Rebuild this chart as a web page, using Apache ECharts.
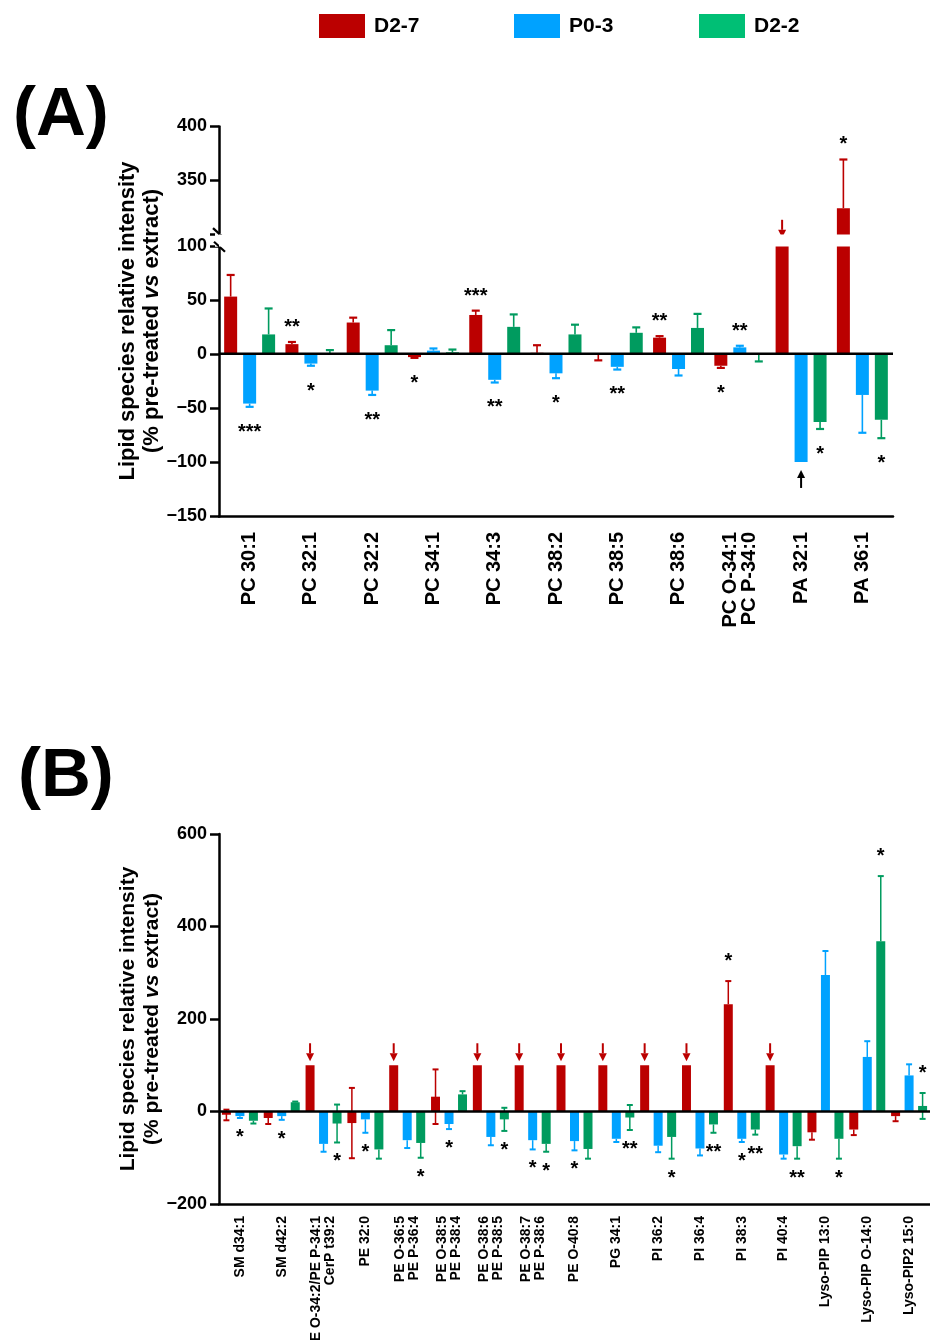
<!DOCTYPE html>
<html>
<head>
<meta charset="utf-8">
<script src="https://cdn.jsdelivr.net/npm/echarts@6/dist/echarts.min.js"></script>
<style>html,body{margin:0;padding:0;background:#fff}#c{width:930px;height:1340px}</style>
</head>
<body>
<div id="c"></div>
<script>
const seriesNames = ['D2-7', 'P0-3', 'D2-2'];

// ---------- Panel A ----------
const catsA = ['PC 30:1', 'PC 32:1', 'PC 32:2', 'PC 34:1', 'PC 34:3', 'PC 38:2', 'PC 38:5', 'PC 38:6', 'PC O-34:1\nPC P-34:0', 'PA 32:1', 'PA 36:1'];
const redA      = [53, 9, 29, -3, 36, 1, -1, 15, -11, 100, 324];
const redErrA   = [20, 2, 4.5, 0.7, 4, 7, 5, 1.4, 2, 0, 45];
const blueA     = [-46, -9, -34, 3, -24, -18, -12, -14, 6, -100, -38];
const blueErrA  = [3, 2, 4, 2, 2.5, 4.5, 2.5, 6, 1.5, 0, 35];
const greenA    = [18, 0.5, 8, 1.5, 25, 18, 19.5, 24, -1, -63, -61];
const greenErrA = [24, 3, 14, 2.5, 11.5, 9, 5, 13, 6, 6.5, 17];
const sigRedA   = ['', '**', '', '*', '***', '', '', '**', '*', '', '*'];
const sigBlueA  = ['***', '*', '**', '', '**', '*', '**', '', '**', '', ''];
const sigGreenA = ['', '', '', '', '', '', '', '', '', '*', '*'];
const arrowRedA  = [0, 0, 0, 0, 0, 0, 0, 0, 0, 1, 0];
const arrowBlueA = [0, 0, 0, 0, 0, 0, 0, 0, 0, 1, 0];
const ticksA = [-150, -100, -50, 0, 50, 100, 350, 400];
const breakA = [100, 300];

// ---------- Panel B ----------
const catsB = ['SM d34:1', 'SM d42:2', 'PE O-34:2/PE P-34:1\nCerP t39:2', 'PE 32:0', 'PE O-36:5\nPE P-36:4', 'PE O-38:5\nPE P-38:4', 'PE O-38:6\nPE P-38:5', 'PE O-38:7\nPE P-38:6', 'PE O-40:8', 'PG 34:1', 'PI 36:2', 'PI 36:4', 'PI 38:3', 'PI 40:4', 'Lyso-PIP 13:0', 'Lyso-PIP O-14:0', 'Lyso-PIP2 15:0'];
const redB       = [-7, -14, 100, -25, 100, 32, 100, 100, 100, 100, 100, 100, 232, 100, -45, -39, -10];
const redErrB    = [12, 13, 0, 76, 0, 59, 0, 0, 0, 0, 0, 0, 50, 0, 16, 12, 11];
const redInB     = [11, 0, 0, 76, 0, 59, 0, 0, 0, 0, 0, 0, 0, 0, 0, 0, 0];
const blueB      = [-10, -10, -70, -17, -62, -27, -55, -62, -64, -59, -74, -80, -59, -93, 295, 118, 78];
const blueErrB   = [4, 8, 17, 29, 17, 11, 18, 20, 20, 7, 14, 15, 7, 9, 52, 34, 24];
const greenB     = [-20, 20, -26, -82, -68, 37, -17, -70, -81, -13, -55, -28, -39, -75, -59, 368, 12];
const greenErrB  = [6, 1.5, 41, 20, 32, 7, 25, 17, 21, 27, 47, 18, 11, 27, 43, 141, 28];
const greenInB   = [0, 0, 41, 0, 0, 0, 25, 0, 0, 27, 0, 0, 0, 0, 0, 0, 28];
const sigRedB    = ['', '', '', '', '', '', '', '', '', '', '', '', '*', '', '', '', ''];
const sigBlueB   = ['*', '*', '', '*', '', '*', '', '*', '*', '', '', '', '*', '', '', '', ''];
const sigGreenB  = ['', '', '*', '', '*', '', '*', '*', '', '**', '*', '**', '**', '**', '*', '*', '*'];
const arrowRedB  = [0, 0, 1, 0, 1, 0, 1, 1, 1, 1, 1, 1, 0, 1, 0, 0, 0];
const ticksB = [-200, 0, 200, 400, 600];

// ---------- styling ----------
const FONT = "'Liberation Sans', Arial, Helvetica, sans-serif";
const COLORS = ['#BB0000', '#00A2FF', '#009B5F'];
const LEGEND_COLORS = ['#BB0000', '#00A2FF', '#00BF75'];

const cfgA = { bw: 13, gapPct: 0.46, cap: 8, lw: 1.6, capLw: 2.2, sigUp: 19, sigDown: 21, sigFs: 20, sigWeight: 'bold',
  arrGap: 8, arrLen: 18, headLen: 8, headW: 8, arrColor: ['#BB0000', '#000', '#000'] };
const cfgB = { bw: 9, gapPct: 0.5, cap: 6, lw: 1.5, capLw: 2, sigUp: 24, sigDown: 15, sigFs: 20, sigWeight: 'bold',
  arrGap: 4, arrLen: 18, headLen: 8, headW: 8, arrColor: ['#BB0000', '#000', '#000'] };
[cfgA, cfgB].forEach(c => { const d = c.bw * (1 + c.gapPct); c.off = [-d, 0, d]; });

function minus(v) { return String(v).replace('-', '\u2212'); }

function barSeries(p, k, vals, cfg) {
  return {
    type: 'bar', name: seriesNames[k], xAxisIndex: p, yAxisIndex: p, z: 2,
    data: vals, barWidth: cfg.bw, barGap: (cfg.gapPct * 100) + '%',
    itemStyle: { color: COLORS[k] }, silent: true, animation: false
  };
}

function overlay(p, k, vals, errs, errIn, sigs, arrows, cfg) {
  const color = COLORS[k];
  return {
    type: 'custom', xAxisIndex: p, yAxisIndex: p, z: 1, silent: true, clip: false, animation: false,
    data: vals.map((v, i) => [i, v]),
    renderItem: function (params, api) {
      const i = params.dataIndex;
      const v = vals[i], e = errs[i], ei = errIn ? errIn[i] : 0;
      const s = v >= 0 ? 1 : -1;
      const pv = api.coord([i, v]);
      const x = pv[0] + cfg.off[k];
      const yV = pv[1];
      const yOut = api.coord([i, v + s * e])[1];
      const yIn = api.coord([i, v - s * ei])[1];
      const ch = [];
      if (e > 0 || ei > 0) {
        ch.push({ type: 'line', shape: { x1: x, y1: yIn, x2: x, y2: yOut }, style: { stroke: color, lineWidth: cfg.lw } });
      }
      if (e > 0) ch.push({ type: 'line', shape: { x1: x - cfg.cap / 2, y1: yOut, x2: x + cfg.cap / 2, y2: yOut }, style: { stroke: color, lineWidth: cfg.capLw } });
      if (ei > 0) ch.push({ type: 'line', shape: { x1: x - cfg.cap / 2, y1: yIn, x2: x + cfg.cap / 2, y2: yIn }, style: { stroke: color, lineWidth: cfg.capLw } });
      if (sigs && sigs[i]) {
        const off = s > 0 ? cfg.sigUp : cfg.sigDown;
        const yc = yOut - s * off;
        ch.push({ type: 'text', z2: 10, style: { x: x, y: yc + 0.22 * cfg.sigFs, text: sigs[i], fill: '#000',
          font: cfg.sigWeight + ' ' + cfg.sigFs + 'px ' + FONT, align: 'center', verticalAlign: 'middle' } });
      }
      if (arrows && arrows[i]) {
        const tipY = yV - s * cfg.arrGap;
        const tailY = tipY - s * cfg.arrLen;
        const headY = tipY - s * cfg.headLen;
        const ac = cfg.arrColor[k];
        ch.push({ type: 'line', shape: { x1: x, y1: tailY, x2: x, y2: headY }, style: { stroke: ac, lineWidth: 2 } });
        ch.push({ type: 'polygon', shape: { points: [[x - cfg.headW / 2, headY], [x + cfg.headW / 2, headY], [x, tipY]] }, style: { fill: ac } });
      }
      return { type: 'group', children: ch };
    }
  };
}

function zeroLine(p) {
  return {
    type: 'custom', xAxisIndex: p, yAxisIndex: p, z: 5, silent: true, animation: false, clip: false,
    data: [[0, 0]],
    renderItem: function (params, api) {
      const y = api.coord([0, 0])[1];
      const cs = params.coordSys;
      return { type: 'line', shape: { x1: cs.x, y1: y, x2: cs.x + cs.width, y2: y }, style: { stroke: '#000', lineWidth: 2.5 } };
    }
  };
}

function breakMarks(p, range) {
  return {
    type: 'custom', xAxisIndex: p, yAxisIndex: p, z: 6, silent: true, animation: false, clip: false,
    data: [[0, range[0]]],
    renderItem: function (params, api) {
      const cs = params.coordSys;
      const y1 = api.coord([0, range[0]])[1];
      const y2 = api.coord([0, range[1]])[1];
      const ax = cs.x;
      return { type: 'group', children: [
        { type: 'rect', shape: { x: ax - 4, y: y2 - 1, width: 8, height: y1 - y2 + 2 }, style: { fill: '#fff' } },
        { type: 'line', shape: { x1: ax - 6, y1: y2 - 6, x2: ax + 5, y2: y2 + 4 }, style: { stroke: '#000', lineWidth: 2.2 } },
        { type: 'line', shape: { x1: ax - 5, y1: y1 - 4, x2: ax + 6, y2: y1 + 6 }, style: { stroke: '#000', lineWidth: 2.2 } }
      ] };
    }
  };
}

const axisLineStyle = { color: '#000', width: 2.5 };
function yName(fs) {
  return {
    name: '{a|Lipid species relative intensity}\n{a|(% pre-treated }{b|vs}{a| extract)}',
    nameLocation: 'middle', nameRotate: 90, nameMoveOverlap: false,
    nameTextStyle: { rich: {
      a: { fontSize: fs, fontWeight: 'bold', fontFamily: FONT, color: '#000', lineHeight: 24 },
      b: { fontSize: fs, fontWeight: 'bold', fontStyle: 'italic', fontFamily: FONT, color: '#000', lineHeight: 24 }
    } }
  };
}

const chart = echarts.init(document.getElementById('c'), null, { renderer: 'canvas' });

const option = {
  animation: false,
  backgroundColor: '#fff',
  legend: seriesNames.map((n, k) => ({
    data: [{ name: n, itemStyle: { color: LEGEND_COLORS[k] } }],
    left: [319, 514, 699][k], top: 14, padding: 0, itemWidth: 46, itemHeight: 24, icon: 'rect',
    selectedMode: false,
    textStyle: { fontSize: 21, fontWeight: 'bold', color: '#000', fontFamily: FONT, padding: [0, 0, 0, 4] }
  })),
  graphic: [
    { type: 'text', left: 13, top: 81, style: { text: '(A)', font: 'bold 69px ' + FONT, fill: '#000' } },
    { type: 'text', left: 18, top: 742, style: { text: '(B)', font: 'bold 69px ' + FONT, fill: '#000' } }
  ],
  grid: [
    { left: 219, right: 37, top: 126, bottom: 1340 - 516, outerBoundsMode: 'none', containLabel: false },
    { left: 219, right: 0, top: 834, bottom: 1340 - 1204, outerBoundsMode: 'none', containLabel: false }
  ],
  xAxis: [
    { type: 'category', gridIndex: 0, data: catsA,
      axisLine: { onZero: false, lineStyle: axisLineStyle },
      axisTick: { alignWithLabel: true, length: 8, lineStyle: axisLineStyle },
      axisLabel: { rotate: 90, interval: 0, fontSize: 20, fontWeight: 'bold', color: '#000', fontFamily: FONT, margin: 16, lineHeight: 19 },
      splitLine: { show: false } },
    { type: 'category', gridIndex: 1, data: catsB,
      axisLine: { onZero: false, lineStyle: axisLineStyle },
      axisTick: { alignWithLabel: true, length: 8, lineStyle: axisLineStyle },
      axisLabel: { rotate: 90, interval: 0, fontSize: 14, fontWeight: 'bold', color: '#000', fontFamily: FONT, margin: 12, lineHeight: 14 },
      splitLine: { show: false } }
  ],
  yAxis: [
    Object.assign({ type: 'value', gridIndex: 0, min: -150, max: 400, interval: 50,
      breaks: [{ start: breakA[0], end: breakA[1], gap: '3%' }],
      breakArea: { show: true, itemStyle: { color: '#fff', borderWidth: 0, opacity: 1 }, zigzagAmplitude: 0, zigzagZ: 100, expandOnClick: false },
      axisLine: { show: true, lineStyle: axisLineStyle },
      axisTick: { show: true, length: 9, lineStyle: axisLineStyle },
      axisLabel: { fontSize: 18, fontWeight: 'bold', color: '#000', fontFamily: FONT, margin: 12,
        formatter: v => ticksA.includes(v) ? minus(v) : '' },
      splitLine: { show: false }, nameGap: 55 }, yName(22)),
    Object.assign({ type: 'value', gridIndex: 1, min: -200, max: 600, interval: 200,
      axisLine: { show: true, lineStyle: axisLineStyle },
      axisTick: { show: true, length: 9, lineStyle: axisLineStyle },
      axisLabel: { fontSize: 18, fontWeight: 'bold', color: '#000', fontFamily: FONT, margin: 12,
        formatter: v => ticksB.includes(v) ? minus(v) : '' },
      splitLine: { show: false }, nameGap: 55 }, yName(21))
  ],
  series: [
    overlay(0, 0, redA, redErrA, null, sigRedA, arrowRedA, cfgA),
    overlay(0, 1, blueA, blueErrA, null, sigBlueA, arrowBlueA, cfgA),
    overlay(0, 2, greenA, greenErrA, null, sigGreenA, null, cfgA),
    barSeries(0, 0, redA, cfgA),
    barSeries(0, 1, blueA, cfgA),
    barSeries(0, 2, greenA, cfgA),
    zeroLine(0),
    breakMarks(0, breakA),
    overlay(1, 0, redB, redErrB, redInB, sigRedB, arrowRedB, cfgB),
    overlay(1, 1, blueB, blueErrB, null, sigBlueB, null, cfgB),
    overlay(1, 2, greenB, greenErrB, greenInB, sigGreenB, null, cfgB),
    barSeries(1, 0, redB, cfgB),
    barSeries(1, 1, blueB, cfgB),
    barSeries(1, 2, greenB, cfgB),
    zeroLine(1)
  ]
};
chart.setOption(option);
</script>
</body>
</html>
